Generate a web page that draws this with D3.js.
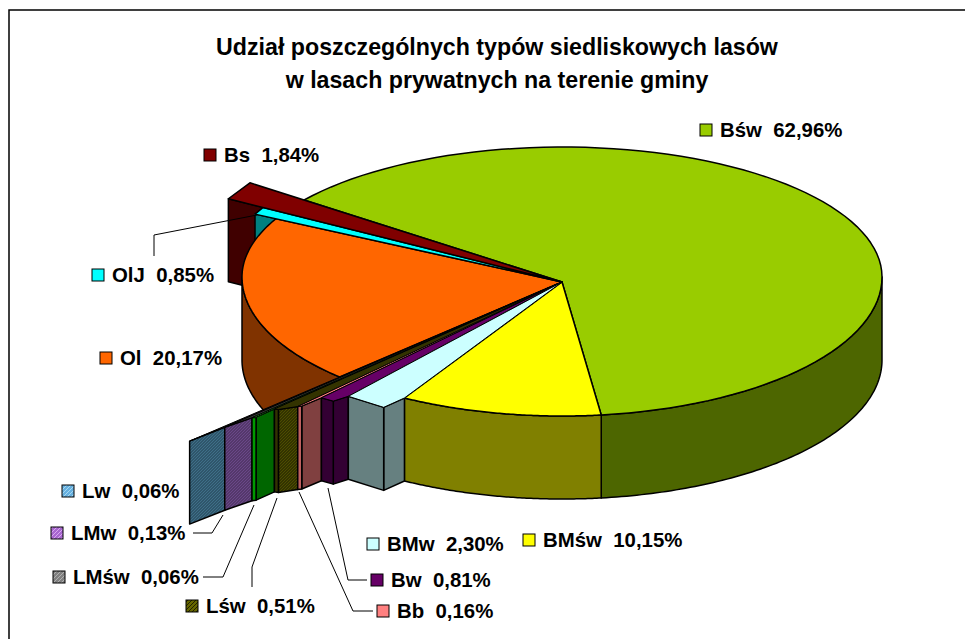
<!DOCTYPE html>
<html>
<head>
<meta charset="utf-8">
<script src="https://cdn.jsdelivr.net/npm/d3@7"></script>
<style>
  html, body { margin: 0; padding: 0; background: #fff; overflow: hidden; }
  svg { display: block; }
  text { font-family: 'Liberation Sans', Arial, sans-serif; font-weight: bold; fill: #000; white-space: pre; }
</style>
</head>
<body>
<div id="chart"></div>
<script>
// Udział typów siedliskowych - pie 3D in the old Excel look
const titleLines = ['Udział poszczególnych typów siedliskowych lasów', 'w lasach prywatnych na terenie gminy'];
const categories = ['Bśw', 'BMśw', 'BMw', 'Bw', 'Bb', 'Lśw', 'LMśw', 'LMw', 'Lw', 'Ol', 'OlJ', 'Bs'];
const values = [62.96, 10.15, 2.30, 0.81, 0.16, 0.51, 0.06, 0.13, 0.06, 20.17, 0.85, 1.84];

const width = 965, height = 639;

const topColors = ['#99cc00', '#ffff00', '#ccffff', '#660066', '#ff8080', '#333300', '#33ff33', '#333333', '#333333', '#ff6600', '#00ffff', '#800000'];
const wallColors = ['#4d6600', '#808000', '#668080', '#330033', '#804040', 'url(#hatchOlive)', '#006600', 'url(#hatchPurple)', 'url(#hatchBlue)', '#803300', '#008080', '#400000'];
const edgeColors = {Bw: '#330033', Bb: '#bf6060', 'Lśw': '#333300', 'LMśw': '#009900', BMw: '#668080'};
const legendColors = ['#99cc00', '#ffff00', '#ccffff', '#660066', '#ff8080', 'url(#legOlive)', 'url(#legGrey)', 'url(#legPurple)', 'url(#legBlue)', '#ff6600', '#00ffff', '#800000'];

// how far each small slice's ends run past the rim, one per boundary
const reachLeft = {BMw: 1.09, Bw: 1.153, Bb: 1.252, 'Lśw': 1.315, 'LMśw': 1.412, LMw: 1.523, Lw: 1.675, OlJ: 1.073, Bs: 1.2};
const reachRight = {BMw: 1.0, Bw: 1.09, Bb: 1.153, 'Lśw': 1.252, 'LMśw': 1.315, LMw: 1.412, Lw: 1.523, OlJ: 1.075, Bs: 1.21};
// corner between the two visible faces of a slice end: share of the width, px below the chord
const tipShare = {BMw: 0.63, Bw: 0.44, Bb: 0.17, 'Lśw': 0.17, 'LMśw': 0.18};
const tipDrop = {BMw: 10, Bw: 4, Bb: 1, 'Lśw': 1, 'LMśw': 1};

const cx = 562, cy = 282, rimY = 277, rx = 320, ryFront = 139, ryBack = 130, depth = 83;
const startDeg = -143.7;

const labels = [
  {name: 'Bśw', x: 700, y: 130},
  {name: 'BMśw', x: 523, y: 540},
  {name: 'BMw', x: 367, y: 544},
  {name: 'Bw', x: 371, y: 580},
  {name: 'Bb', x: 377, y: 611},
  {name: 'Lśw', x: 186, y: 606},
  {name: 'LMśw', x: 53, y: 577},
  {name: 'LMw', x: 51, y: 533},
  {name: 'Lw', x: 62, y: 491},
  {name: 'Ol', x: 100, y: 358},
  {name: 'OlJ', x: 92, y: 275},
  {name: 'Bs', x: 204, y: 155}
];

const leaders = [
  [[257, 215], [154, 235], [154, 256]],
  [[223, 515], [212, 533], [193, 533]],
  [[254, 505], [223, 577], [203, 577]],
  [[277, 498], [252, 567], [252, 587]],
  [[299, 492], [353, 611], [373, 611]],
  [[328, 488], [348, 580], [367, 580]]
];

const svg = d3.select('#chart').append('svg').attr('width', width).attr('height', height);
const defs = svg.append('defs');

function hatch(id, bg, fg, size) {
  const p = defs.append('pattern').attr('id', id).attr('patternUnits', 'userSpaceOnUse')
    .attr('width', size).attr('height', size);
  p.append('rect').attr('width', size).attr('height', size).attr('fill', bg);
  p.append('path').attr('d', `M0,${size} L${size},0 M${-size / 2},${size / 2} L${size / 2},${-size / 2} M${size / 2},${size * 1.5} L${size * 1.5},${size / 2}`)
    .attr('stroke', fg).attr('stroke-width', 1);
}
hatch('hatchBlue', '#2f566b', '#3f6f88', 3);
hatch('hatchPurple', '#54386b', '#6a4888', 3);
hatch('hatchOlive', '#333300', '#4d4d00', 3);
hatch('legBlue', '#66b0e0', '#a8d8f0', 4);
hatch('legPurple', '#a866d0', '#d8a8f0', 4);
hatch('legOlive', '#666600', '#222200', 4);
hatch('legGrey', '#808080', '#b0b0b0', 4);

const pie = d3.pie().sort(null).value(d => d)
  .startAngle(startDeg * Math.PI / 180).endAngle((startDeg + 360) * Math.PI / 180);
const arcs = pie(values);
const slices = categories.map((name, i) => ({name, i, a0: arcs[i].startAngle, a1: arcs[i].endAngle}));
const byName = Object.fromEntries(slices.map(s => [s.name, s]));

// rim point, k scales the ray from the apex
function rim(a, k = 1) {
  const c = Math.cos(a), s = Math.sin(a);
  const px = cx + rx * c;
  const py = rimY + (s > 0 ? ryFront : ryBack) * s;
  return [cx + k * (px - cx), cy + k * (py - cy)];
}
const down = p => [p[0], p[1] + depth];
const line = d3.line();
function arcPoints(a0, a1) {
  return d3.range(0, 91).map(i => rim(a0 + (a1 - a0) * i / 90));
}
function poly(pts, fill, sw = 1.5) {
  svg.append('path').attr('d', line(pts) + 'Z').attr('fill', fill)
    .attr('stroke', '#000').attr('stroke-width', sw).attr('stroke-linejoin', 'round');
}
function wall(a0, a1, fill) {
  const top = arcPoints(a0, a1);
  poly(top.concat(top.map(down).reverse()), fill);
}
function tipOf(n, L, R) {
  const f = tipShare[n];
  return [L[0] + (R[0] - L[0]) * f, L[1] + (R[1] - L[1]) * f + tipDrop[n]];
}
const apex = [cx, cy];

// back: cut faces of the two slices behind Ol
['Bs', 'OlJ'].forEach(n => {
  const s = byName[n];
  const end = rim(s.a0, reachLeft[n]);
  poly([apex, end, down(end), down(apex)], wallColors[s.i]);
});

// rim walls
wall(0, byName['Bśw'].a1, wallColors[0]);
wall(byName['BMśw'].a0, byName['BMśw'].a1, wallColors[1]);
wall(byName['Ol'].a0, Math.PI, wallColors[9]);

// small slices pulled forward, far ones first
const pulled = ['Lw', 'LMw', 'LMśw', 'Lśw', 'Bb', 'Bw', 'BMw'];
pulled.forEach(n => {
  const s = byName[n];
  const L = rim(s.a1, reachLeft[n]), R = rim(s.a0, reachRight[n]);
  if (tipShare[n] === undefined) {
    poly([L, R, down(R), down(L)], wallColors[s.i]);
    return;
  }
  const T = tipOf(n, L, R);
  poly([T, R, down(R), down(T)], wallColors[s.i]);
  poly([L, T, down(T), down(L)], edgeColors[n]);
});

// top surfaces
poly([apex].concat(arcPoints(byName['Bśw'].a0, byName['Bśw'].a1)), topColors[0]);
poly([apex].concat(arcPoints(byName['BMśw'].a0, byName['BMśw'].a1)), topColors[1]);
poly([apex].concat(arcPoints(byName['Ol'].a0, byName['Ol'].a1)), topColors[9]);
pulled.forEach(n => {
  const s = byName[n];
  const L = rim(s.a1, reachLeft[n]), R = rim(s.a0, reachRight[n]);
  if (tipShare[n] === undefined) { poly([apex, L, R], topColors[s.i], 1); return; }
  poly([apex, L, tipOf(n, L, R), R], topColors[s.i], 1);
});
['OlJ', 'Bs'].forEach(n => {
  const s = byName[n];
  poly([apex, rim(s.a0, reachLeft[n]), rim(s.a1, reachRight[n])], topColors[s.i]);
});

// leader lines
leaders.forEach(l => {
  svg.append('path').attr('d', line(l)).attr('fill', 'none').attr('stroke', '#000').attr('stroke-width', 1);
});

// data labels with legend keys
labels.forEach(l => {
  const i = categories.indexOf(l.name);
  svg.append('rect').attr('x', l.x).attr('y', l.y - 6).attr('width', 12).attr('height', 12)
    .attr('fill', legendColors[i]).attr('stroke', '#000').attr('stroke-width', 1);
  svg.append('text').attr('x', l.x + 20).attr('y', l.y + 7).attr('font-size', 20.4)
    .text(`${l.name}  ${values[i].toFixed(2).replace('.', ',')}%`);
});

svg.selectAll('.title').data(titleLines).join('text').attr('class', 'title')
  .attr('x', 497).attr('y', (d, i) => 55 + i * 33).attr('text-anchor', 'middle').attr('font-size', 23.2)
  .text(d => d);

// chart area border, runs off the right and bottom of the picture
svg.append('rect').attr('x', 9).attr('y', 10).attr('width', 980).attr('height', 660)
  .attr('fill', 'none').attr('stroke', '#000').attr('stroke-width', 1.5);
</script>
</body>
</html>
